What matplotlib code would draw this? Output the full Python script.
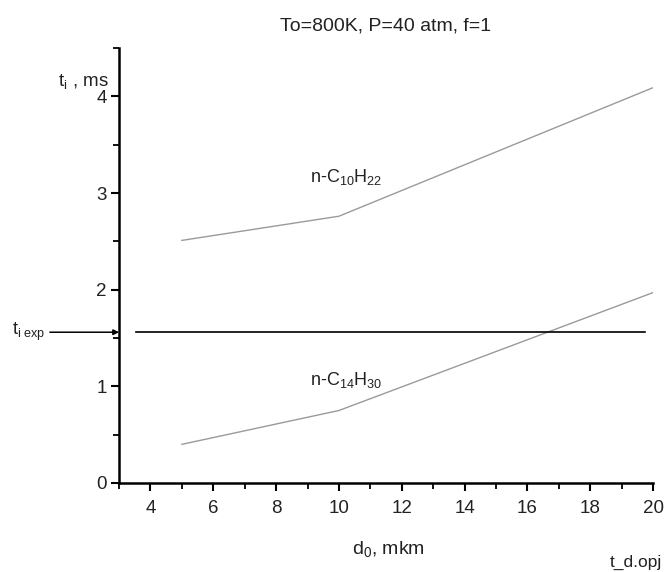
import matplotlib
matplotlib.use("Agg")
import matplotlib.pyplot as plt
from matplotlib.ticker import MultipleLocator

plt.rcParams["font.family"] = ["Liberation Sans", "DejaVu Sans"]
plt.rcParams["mathtext.fontset"] = "custom"
plt.rcParams["mathtext.rm"] = "Liberation Sans"
plt.rcParams["mathtext.it"] = "Liberation Sans"

# droplet diameter, mkm
d0 = [5, 10, 20]
# ignition delay, ms
t_c10h22 = [2.51, 2.76, 4.09]
t_c14h30 = [0.40, 0.75, 1.97]
# experimental ignition delay, ms
t_exp = 1.56
exp_range = [3.55, 19.75]

fig = plt.figure(figsize=(6.65, 5.72), dpi=100)
ax = fig.add_axes([0.179, 0.1556, 0.803, 0.7604])

line_color = "#9a9a9a"
ax.plot(d0, t_c10h22, color=line_color, lw=1.0)
ax.plot(d0, t_c14h30, color=line_color, lw=1.0)
ax.plot(exp_range, [t_exp, t_exp], color="black", lw=1.2)

ax.set_xlim(3, 20)
ax.set_ylim(0, 4.5)
ax.xaxis.set_major_locator(MultipleLocator(2))
ax.xaxis.set_minor_locator(MultipleLocator(1))
ax.yaxis.set_major_locator(MultipleLocator(1))
ax.yaxis.set_minor_locator(MultipleLocator(0.5))
ax.set_xticks(range(4, 21, 2))

for s in ["top", "right"]:
    ax.spines[s].set_visible(False)
for s in ["left", "bottom"]:
    ax.spines[s].set_linewidth(1.8)

ax.tick_params(which="major", direction="out", length=6, width=1.5,
               labelsize=13.5, colors="black", labelcolor="#222222")
ax.tick_params(which="minor", direction="out", length=4, width=1.3)
ax.tick_params(axis="x", pad=6)
ax.tick_params(axis="y", pad=3)

fig.text(0.58, 0.955, "To=800K, P=40 atm, f=1", ha="center", va="center",
         fontsize=14, color="#222222")
fig.text(0.087, 0.858, r"t$_{\mathrm{i}}$ , ms", ha="left", va="center",
         fontsize=13.5, color="#222222")
fig.text(0.529, 0.041, r"d$_{0}$, mkm", ha="left", va="center",
         fontsize=14, color="#222222")
fig.text(0.917, 0.016, "t_d.opj", ha="left", va="center",
         fontsize=12.5, color="#222222")

ax.text(0.466, 0.69, r"n-C$_{10}$H$_{22}$", transform=fig.transFigure,
        fontsize=13, color="#222222", ha="left", va="center")
ax.text(0.466, 0.336, r"n-C$_{14}$H$_{30}$", transform=fig.transFigure,
        fontsize=13, color="#222222", ha="left", va="center")

# marker of the experimental value on the ordinate
ax.annotate("", xy=(3, t_exp), xycoords="data",
            xytext=(0.075, t_exp), textcoords=("figure fraction", "data"),
            arrowprops=dict(arrowstyle="-|>", color="black", lw=1.1,
                            mutation_scale=8, shrinkA=0, shrinkB=0),
            annotation_clip=False)
fig.text(0.018, 0.419, r"t$_{\mathrm{i\ exp}}$", ha="left", va="center",
         fontsize=13, color="#222222")

fig.savefig("out.png", dpi=100, facecolor="white")
